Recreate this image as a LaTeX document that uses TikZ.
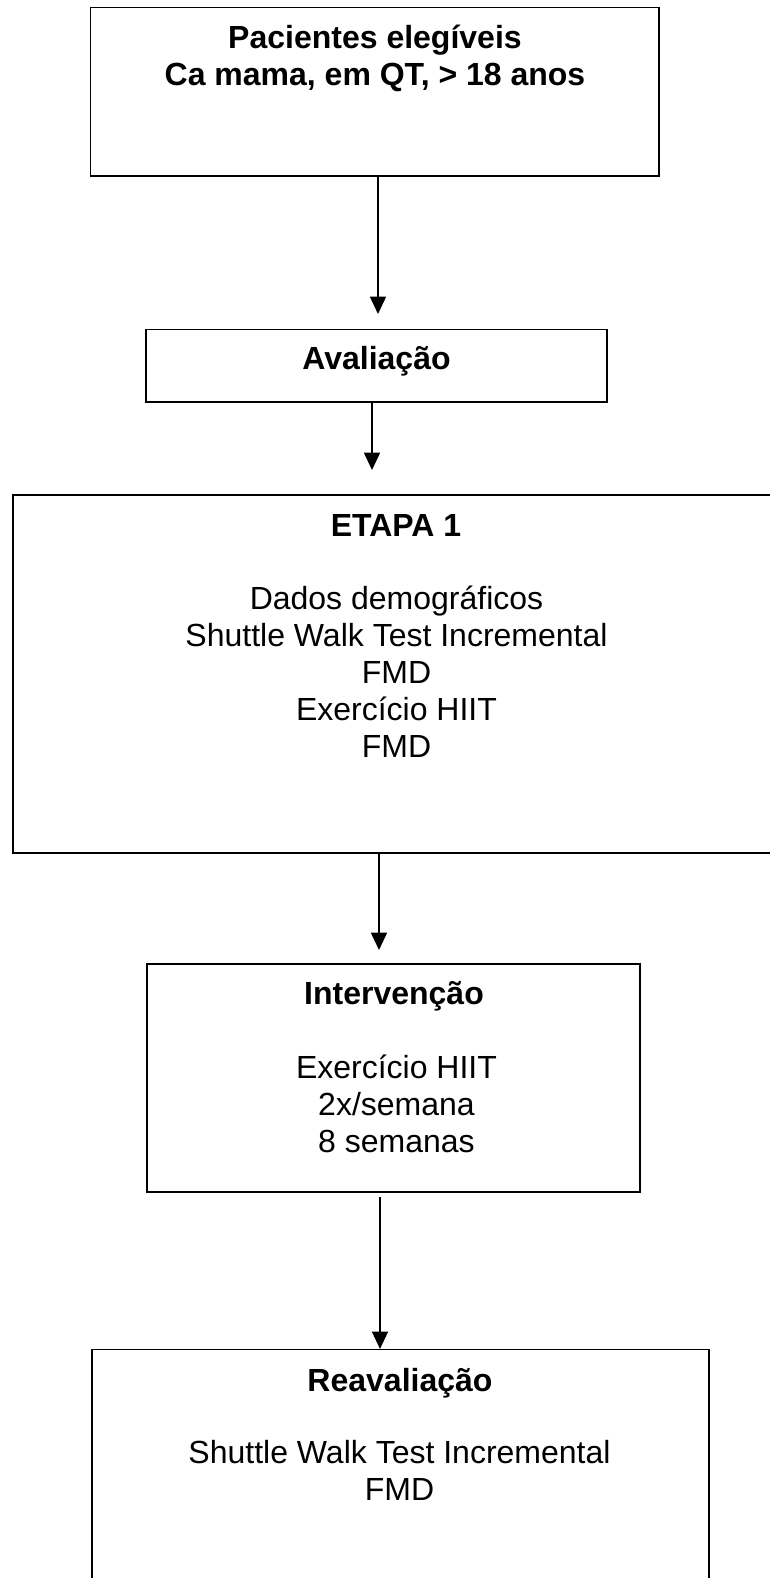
\documentclass[tikz,border=0pt]{standalone}
\usepackage{fontspec}
\setmainfont{Liberation Sans}
\usetikzlibrary{fit,arrows.meta}
\tikzset{
  box/.style={draw, line width=0.9pt, inner sep=0pt},
  txt/.style={anchor=base, inner sep=0pt, font=\fontsize{24}{28}\selectfont},
  ttl/.style={txt, font=\fontsize{24}{28}\selectfont\bfseries},
  seta/.style={line width=1.3pt, -{Triangle[length=13pt,width=12pt]}},
}
\begin{document}
\begin{tikzpicture}[x=0.75pt,y=-0.75pt]
	\useasboundingbox (0,0) rectangle (770,1578);
	\clip (0,0) rectangle (770,1578);
	% caixas
	\node[box, fit={(90.5,7.5) (659,176)}] (pac) {};
	\node[box, fit={(146,329.5) (607,402)}] (aval) {};
	\node[box, fit={(13,495) (790,853)}] (etapa) {};
	\node[box, fit={(147,964) (640,1192)}] (interv) {};
	\node[box, fit={(92,1349.5) (709,1610)}] (reav) {};
	% textos
	\node[ttl] (pac1) at (375,48.5) {Pacientes elegíveis};
	\node[ttl] (pac2) at (375,85) {Ca mama, em QT, > 18 anos};
	\node[ttl] (aval1) at (376.5,369.5) {Avaliação};
	\node[ttl] (etapa0) at (396,536) {ETAPA 1};
	\foreach \t [count=\i] in {Dados demográficos, Shuttle Walk Test Incremental, FMD, Exercício HIIT, FMD}
		\node[txt] (etapa\i) at (396.5,572+37*\i) {\t};
	\node[ttl] (interv0) at (394,1004) {Intervenção};
	\foreach \t [count=\i] in {Exercício HIIT, 2x/semana, 8 semanas}
		\node[txt] (interv\i) at (396.5,1041+37*\i) {\t};
	\node[ttl] (reav0) at (400,1391) {Reavaliação};
	\foreach \t [count=\i] in {Shuttle Walk Test Incremental, FMD}
		\node[txt] (reav\i) at (399.5,1426+37*\i) {\t};
	% setas
	\coordinate (t1) at (378,314);
	\coordinate (t2) at (372,470);
	\coordinate (t3) at (379,950);
	\coordinate (s4) at (380,1197);
	\draw[seta] (pac.south -| t1) -- (t1);
	\draw[seta] (aval.south -| t2) -- (t2);
	\draw[seta] (etapa.south -| t3) -- (t3);
	\draw[seta] (s4) -- (reav.north -| s4);
\end{tikzpicture}
\end{document}
